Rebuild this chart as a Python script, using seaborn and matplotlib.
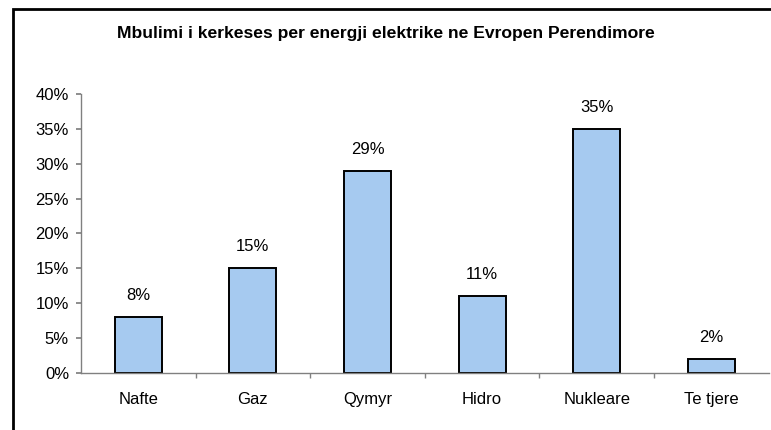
import matplotlib
matplotlib.use("Agg")
import matplotlib.pyplot as plt
import matplotlib.patches as patches
import seaborn as sns
import numpy as np
import pandas as pd
from matplotlib.ticker import FixedLocator, FuncFormatter

burimet = ["Nafte", "Gaz", "Qymyr", "Hidro", "Nukleare", "Te tjere"]
perqindjet = [8, 15, 29, 11, 35, 2]
titulli = "Mbulimi i kerkeses per energji elektrike ne Evropen Perendimore"

df = pd.DataFrame({"burimi": burimet, "perqindja": perqindjet})

sns.set_theme(style="white")
plt.rcParams["font.family"] = ["Liberation Sans", "DejaVu Sans"]

fig = plt.figure(figsize=(7.71, 4.30), dpi=100)
ax = fig.add_axes([0.105, 0.1326, 0.892, 0.6488])

sns.barplot(data=df, x="burimi", y="perqindja", color="#A6CAF0",
            saturation=1, width=0.41, edgecolor="black", linewidth=1.4, ax=ax)

ax.set_ylim(0, 40)
ax.set_xlim(-0.5, 5.5)
ax.set_yticks(np.arange(0, 41, 5))
ax.yaxis.set_major_formatter(FuncFormatter(lambda v, p: f"{v:.0f}%"))
ax.set_xlabel("")
ax.set_ylabel("")

# etiketat mbi shtyllat
for i, v in enumerate(perqindjet):
    ax.annotate(f"{v}%", (i, v), xytext=(0, 10), textcoords="offset points",
                ha="center", va="bottom", fontsize=12, color="black")

for s in ["top", "right"]:
    ax.spines[s].set_visible(False)
for s in ["left", "bottom"]:
    ax.spines[s].set_color("#808080")
    ax.spines[s].set_linewidth(1)

ax.tick_params(axis="y", which="major", left=True, length=3.6, color="#808080",
               labelsize=12, labelcolor="black", pad=5)
ax.tick_params(axis="x", which="major", bottom=False, labelsize=12,
               labelcolor="black", pad=8)
ax.xaxis.set_minor_locator(FixedLocator(np.arange(0.5, 5.5, 1)))
ax.tick_params(axis="x", which="minor", bottom=True, length=3.6, color="#808080")

fig.text(0.5, 0.923, titulli, ha="center", va="center", fontsize=12.6,
         fontweight="bold", color="black")

# korniza e figures
korniza = patches.Rectangle((13 / 771, -0.1), 1.2, (430 - 9) / 430 + 0.1,
                            transform=fig.transFigure, fill=False,
                            edgecolor="black", linewidth=2, clip_on=False)
fig.patches.append(korniza)

fig.savefig("out.png", dpi=100, facecolor="white")
plt.close(fig)
